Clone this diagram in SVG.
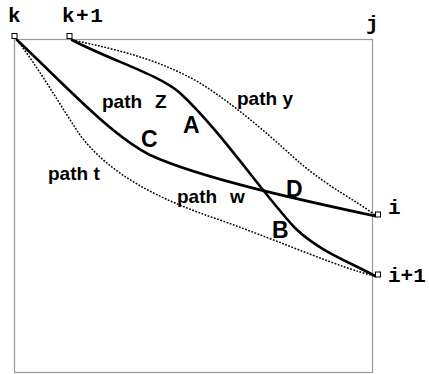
<svg xmlns="http://www.w3.org/2000/svg" width="429" height="374" viewBox="0 0 429 374">
<style>
.box{fill:none;stroke:#999;stroke-width:1.2}
.mark{fill:#fff;stroke:#000;stroke-width:1}
.mono{font-family:"Liberation Mono","DejaVu Sans Mono",monospace;font-weight:bold;font-size:21px;letter-spacing:1.5px;fill:#000}
.lbl{font-family:"Liberation Sans",Arial,sans-serif;font-weight:bold;font-size:19px;fill:#000}
.big{font-family:"Liberation Sans",Arial,sans-serif;font-weight:bold;font-size:23px;fill:#000}
.solid{fill:none;stroke:#000;stroke-width:2.6;stroke-linecap:round}
.dot{fill:none;stroke:#000;stroke-width:1.5;stroke-dasharray:1.8 1.5}
</style>
<rect class="box" x="14.5" y="39.5" width="358" height="333"/>
<g id="connectors">
<path id="path-t" class="dot" d="M17,40 C40,70 60,105 80,135 C110,175 160,200 220,220 C290,245 340,268 375,276"/>
<path id="path-y" class="dot" d="M72,40 C120,50 160,60 200,83 C240,108 280,145 300,163 C330,188 355,200 375,215"/>
<path id="path-w" class="solid" d="M17,40 C60,80 110,135 150,155 C200,178 300,200 375,216"/>
<path id="path-z" class="solid" d="M72,40 C110,60 160,75 180,93 C220,130 260,190 295,228 C320,252 350,262 375,276"/>
</g>
<g id="node-k"><rect class="mark" x="12" y="33.5" width="5" height="5"/><text class="mono" x="8" y="22">k</text></g>
<g id="node-k1"><rect class="mark" x="67" y="33.5" width="5" height="5"/><text class="mono" x="62" y="22">k+1</text></g>
<g id="node-j"><text class="mono" x="366" y="30">j</text></g>
<g id="node-i"><rect class="mark" x="375.5" y="212" width="5" height="5"/><text class="mono" x="388" y="214">i</text></g>
<g id="node-i1"><rect class="mark" x="375.5" y="272" width="5" height="5"/><text class="mono" x="388" y="282" style="letter-spacing:0">i+1</text></g>
<g id="labels">
<text class="lbl" x="102" y="108">path<tspan x="155">Z</tspan></text>
<text class="lbl" x="237" y="105">path y</text>
<text class="lbl" x="48" y="180">path t</text>
<text class="lbl" x="177" y="203">path<tspan x="230">w</tspan></text>
<text class="big" x="183" y="133">A</text>
<text class="big" x="141" y="147">C</text>
<text class="big" x="286" y="197">D</text>
<text class="big" x="272" y="238">B</text>
</g>
</svg>
